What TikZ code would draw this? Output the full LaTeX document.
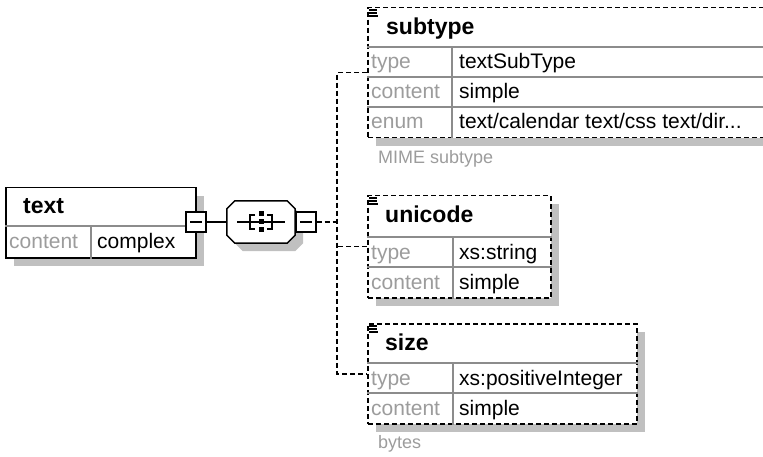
\documentclass[tikz,border=0pt]{standalone}
\usepackage{fontspec}
\setmainfont{Liberation Sans}
\usetikzlibrary{calc,shadows}

\definecolor{shadowgray}{HTML}{C0C0C0}
\definecolor{labelgray}{HTML}{9C9C9C}
\definecolor{rulegray}{HTML}{8C8C8C}

\begin{document}
\begin{tikzpicture}[x=1pt,y=-1pt,
  elem/.style={draw,line width=1.5pt,fill=white,inner sep=0pt,anchor=north west,
               drop shadow={shadow xshift=8pt,shadow yshift=-8pt,fill=shadowgray,opacity=1}},
  optelem/.style={elem,dash pattern=on 5pt off 3pt},
  conn/.style={line width=1.5pt},
  optconn/.style={line width=1.5pt,dash pattern=on 5pt off 3pt},
  rowsep/.style={rulegray,line width=1.2pt},
  minus/.style={draw,line width=1.2pt,fill=white,minimum size=20pt,inner sep=0pt,
                path picture={\draw[line width=1.2pt]
                  ($(path picture bounding box.west)+(4,0)$) --
                  ($(path picture bounding box.east)+(-4,0)$);}},
  title/.style={font=\bfseries\fontsize{23}{27}\selectfont,anchor=base west,inner sep=0pt},
  prop/.style={font=\fontsize{21}{25}\selectfont,text=labelgray,anchor=base west,inner sep=0pt},
  val/.style={font=\fontsize{21}{25}\selectfont,anchor=base west,inner sep=0pt},
  note/.style={font=\fontsize{18}{22}\selectfont,text=labelgray,anchor=base west,inner sep=0pt}]
\clip (0,0) rectangle (763,457);
\useasboundingbox (0,0) rectangle (763,457);

% root element
\node[elem,minimum width=190pt,minimum height=70pt] (text) at (5,187) {};
\draw[rowsep] ($(text.north west)+(0,39)$) -- ($(text.north east)+(0,39)$);
\draw[rowsep] ($(text.north west)+(86,39)$) -- ($(text.south west)+(86,0)$);
\node[title] (text-name) at (23,214) {text};
\node[prop] (text-content) at (9,248) {content};
\node[val] (text-complex) at (97,248) {complex};
\node[minus] (text-minus) at (196,222) {};

% sequence
\node[minimum width=68pt,minimum height=42pt,inner sep=0pt] (seq) at (261,222) {};
\path[draw,line width=1.5pt,fill=white,
      drop shadow={shadow xshift=8pt,shadow yshift=-8pt,fill=shadowgray,opacity=1}]
  ($(seq.north west)+(8,0)$) -- ($(seq.north east)+(-8,0)$) -- ($(seq.north east)+(0,8)$)
  -- ($(seq.south east)+(0,-8)$) -- ($(seq.south east)+(-8,0)$) -- ($(seq.south west)+(8,0)$)
  -- ($(seq.south west)+(0,-8)$) -- ($(seq.north west)+(0,8)$) -- cycle;
\begin{scope}[shift={(seq.center)},line width=1.4pt]
\draw (-24,0) -- (24,0);
\draw (-6,-7) -- (-11,-7) -- (-11,7) -- (-6,7);
\draw (6,-7) -- (11,-7) -- (11,7) -- (6,7);
\foreach \dy in {-8,0,8}
  \fill (-2.5,\dy-2.5) rectangle (2.5,\dy+2.5);
\end{scope}
\node[minus] (seq-minus) at (306,222) {};
\draw[conn] (text-minus) -- (seq);
\coordinate (trunk) at (337,222);

% subtype
\node[optelem,minimum width=433pt,minimum height=130pt] (subtype) at (367,7) {};
\draw[rowsep] ($(subtype.north west)+(0,40)$) -- ($(subtype.north east)+(0,40)$);
\draw[rowsep] ($(subtype.north west)+(0,70)$) -- ($(subtype.north east)+(0,70)$);
\draw[rowsep] ($(subtype.north west)+(0,100)$) -- ($(subtype.north east)+(0,100)$);
\draw[rowsep] ($(subtype.north west)+(85,40)$) -- ($(subtype.south west)+(85,0)$);
\draw[line width=1.2pt] ($(subtype.north west)+(2,3)$) -- +(8,0) ($(subtype.north west)+(2,6)$) -- +(8,0)
  ($(subtype.north west)+(2,9)$) -- +(9,0);
\node[title] (subtype-name) at (386,35) {subtype};
\node[prop] (subtype-type) at (371,69) {type};
\node[val] (subtype-typeval) at (459,69) {textSubType};
\node[prop] (subtype-content) at (371,99) {content};
\node[val] (subtype-contentval) at (459,99) {simple};
\node[prop] (subtype-enum) at (371,129) {enum};
\node[val] (subtype-enumval) at (459,129) {text/calendar text/css text/dir...};
\node[note] (subtype-doc) at (378,164) {MIME subtype};

% unicode
\node[optelem,minimum width=183pt,minimum height=102pt] (unicode) at (367,195) {};
\draw[rowsep] ($(unicode.north west)+(0,42)$) -- ($(unicode.north east)+(0,42)$);
\draw[rowsep] ($(unicode.north west)+(0,72)$) -- ($(unicode.north east)+(0,72)$);
\draw[rowsep] ($(unicode.north west)+(86,42)$) -- ($(unicode.south west)+(86,0)$);
\draw[line width=1.2pt] ($(unicode.north west)+(2,3)$) -- +(8,0) ($(unicode.north west)+(2,6)$) -- +(8,0)
  ($(unicode.north west)+(2,9)$) -- +(9,0);
\node[title] (unicode-name) at (385,223) {unicode};
\node[prop] (unicode-type) at (371,259) {type};
\node[val] (unicode-typeval) at (459,259) {xs:string};
\node[prop] (unicode-content) at (371,289) {content};
\node[val] (unicode-contentval) at (459,289) {simple};

% size
\node[optelem,minimum width=269pt,minimum height=100pt] (size) at (367,323) {};
\draw[rowsep] ($(size.north west)+(0,40)$) -- ($(size.north east)+(0,40)$);
\draw[rowsep] ($(size.north west)+(0,70)$) -- ($(size.north east)+(0,70)$);
\draw[rowsep] ($(size.north west)+(86,40)$) -- ($(size.south west)+(86,0)$);
\draw[line width=1.2pt] ($(size.north west)+(2,3)$) -- +(8,0) ($(size.north west)+(2,6)$) -- +(8,0)
  ($(size.north west)+(2,9)$) -- +(9,0);
\node[title] (size-name) at (385,350) {size};
\node[prop] (size-type) at (371,385) {type};
\node[val] (size-typeval) at (459,385) {xs:positiveInteger};
\node[prop] (size-content) at (371,415) {content};
\node[val] (size-contentval) at (459,415) {simple};
\node[note] (size-doc) at (378,448) {bytes};

% connectors
\draw[optconn] (seq-minus) -- (trunk);
\draw[optconn] (subtype.west) -| (trunk) |- (size.west);
\draw[optconn] (unicode.west) -- (unicode.west -| trunk);
\end{tikzpicture}
\end{document}
